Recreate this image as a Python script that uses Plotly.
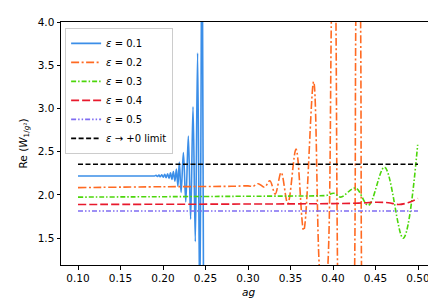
import plotly.graph_objects as go

# ---- data ----
ag_e01 = [0.100, 0.150, 0.185, 0.1900, 0.1918, 0.1935, 0.1952, 0.1969, 0.1986, 0.2003, 0.2020,
          0.2037, 0.2054, 0.2071, 0.2088, 0.2105, 0.2122, 0.2140, 0.2158, 0.2175, 0.2192,
          0.2213, 0.2240, 0.2268, 0.2298, 0.2325, 0.2353, 0.2380, 0.2407, 0.2433, 0.2460, 0.2480]
re_e01 = [2.22, 2.22, 2.22, 2.220, 2.226, 2.214, 2.229, 2.210, 2.233, 2.206, 2.238,
          2.200, 2.245, 2.192, 2.255, 2.180, 2.27, 2.16, 2.30, 2.10, 2.38,
          2.03, 2.49, 1.92, 2.68, 1.72, 3.02, 1.46, 3.64, 0.6, 5.5, 0.0]

ag_e02 = [0.100, 0.200, 0.280, 0.300, 0.306, 0.312, 0.3195, 0.3257, 0.332, 0.339, 0.3468,
          0.3565, 0.3655, 0.3772, 0.3838, 0.3890, 0.3940, 0.3980, 0.4010, 0.4035, 0.4053,
          0.4150, 0.4255, 0.4268, 0.4295, 0.4325, 0.4335, 0.4345]
re_e02 = [2.085, 2.095, 2.10, 2.105, 2.10, 2.13, 2.09, 2.165, 2.01, 2.26, 1.90,
          2.53, 1.59, 3.31, 1.19, 0.6, 1.19, 4.0, 6.5, 4.0, 1.19,
          -6.0, 1.19, 4.0, 6.5, 4.0, 1.19, 0.5]

ag_e03 = [0.100, 0.300, 0.380, 0.392, 0.401, 0.409, 0.4265, 0.4415, 0.4606, 0.4825, 0.4996]
re_e03 = [1.975, 1.985, 1.99, 1.995, 2.02, 1.975, 2.08, 1.88, 2.32, 1.50, 2.58]

ag_e04 = [0.100, 0.300, 0.400, 0.430, 0.450, 0.465, 0.4774, 0.488, 0.500]
re_e04 = [1.89, 1.895, 1.90, 1.905, 1.915, 1.91, 1.89, 1.91, 1.96]

ag_e05 = [0.100, 0.300, 0.500]
re_e05 = [1.815, 1.815, 1.815]

ag_lim = [0.100, 0.500]
re_lim = [2.355, 2.355]

x_ticks = [0.10, 0.15, 0.20, 0.25, 0.30, 0.35, 0.40, 0.45, 0.50]
x_tick_labels = ["0.10", "0.15", "0.20", "0.25", "0.30", "0.35", "0.40", "0.45", "0.50"]
y_ticks = [1.5, 2.0, 2.5, 3.0, 3.5, 4.0]
y_tick_labels = ["1.5", "2.0", "2.5", "3.0", "3.5", "4.0"]

series = [
    ("<i>ε</i> = 0.1", ag_e01, re_e01, "#3b8ee8", "solid", "spline"),
    ("<i>ε</i> = 0.2", ag_e02, re_e02, "#ff6a22", "8px,2.5px,2px,2.5px", "spline"),
    ("<i>ε</i> = 0.3", ag_e03, re_e03, "#4cd60a", "5px,2px,1.5px,2px", "spline"),
    ("<i>ε</i> = 0.4", ag_e04, re_e04, "#e8192c", "8px,3px", "spline"),
    ("<i>ε</i> = 0.5", ag_e05, re_e05, "#7f6cf2", "5px,2px,1.5px,2px,1.5px,2px", "linear"),
    ("<i>ε</i> → +0 limit", ag_lim, re_lim, "#000000", "5px,2.5px", "linear"),
]

fig = go.Figure()
for name, xs, ys, col, dash, shape in series:
    fig.add_trace(go.Scatter(
        x=xs, y=ys, mode="lines", name=name,
        line=dict(color=col, width=1.6, dash=dash, shape=shape, smoothing=1.0),
    ))

font_family = "DejaVu Sans"
fig.update_layout(
    width=436, height=299,
    margin=dict(l=53, r=8, t=12, b=42),
    paper_bgcolor="white", plot_bgcolor="white",
    font=dict(family=font_family, size=10.5, color="black"),
    showlegend=True,
    legend=dict(
        x=0.011, y=0.976, xanchor="left", yanchor="top",
        bgcolor="rgba(255,255,255,0.85)", bordercolor="#cccccc", borderwidth=1,
        font=dict(family=font_family, size=10),
        itemwidth=30, tracegroupgap=0,
    ),
    xaxis=dict(
        range=[0.08, 0.52], tickvals=x_ticks, ticktext=x_tick_labels,
        showgrid=False, zeroline=False, showline=True, linecolor="black", linewidth=1,
        mirror=True, ticks="outside", ticklen=3.5, tickwidth=0.8, tickcolor="black",
    ),
    yaxis=dict(
        range=[1.19, 4.0], tickvals=y_ticks, ticktext=y_tick_labels,
        showgrid=False, zeroline=False, showline=True, linecolor="black", linewidth=1,
        mirror=True, ticks="outside", ticklen=3.5, tickwidth=0.8, tickcolor="black",
        title=dict(text="Re (<i>W</i><sub>1/<i>g</i>²</sub>)", standoff=8, font=dict(size=10.5)),
    ),
    annotations=[dict(
        text="<i>ag</i>", xref="paper", yref="paper", x=0.5, y=0,
        xanchor="center", yanchor="top", yshift=-19, showarrow=False,
        font=dict(family=font_family, size=10.5, color="black"),
    )],
)

fig.write_html("out.html")
